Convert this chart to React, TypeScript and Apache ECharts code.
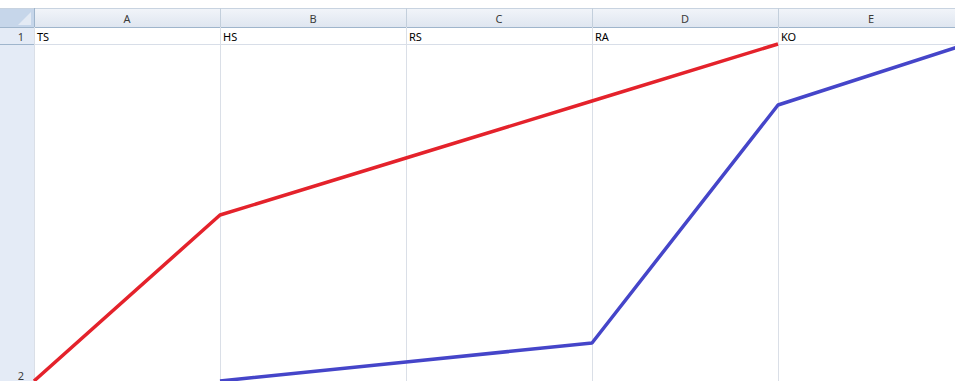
import React, { useEffect, useRef } from "react";
import * as echarts from "echarts";

// Sheet contents
const columnLetters = ["A", "B", "C", "D", "E"];
const rowNumbers = ["1", "2"];
const categories = ["TS", "HS", "RS", "RA", "KO"];

// Line values, [column index, height above the bottom of row 2]
const redSeries: [number, number][] = [
  [0, 0],
  [1, 166],
  [2, 223],
  [3, 280],
  [4, 337],
];
const blueSeries: [number, number][] = [
  [1, 0],
  [2, 19],
  [3, 38],
  [4, 276],
  [5, 336],
];

const W = 955;
const H = 381;
const ROW_HDR_W = 34;
const COL_W = 186;
const SHEET_W = ROW_HDR_W + COL_W * 5; // sheet runs past the visible edge
const HDR_TOP = 8;
const HDR_BOTTOM = 27;
const ROW1_BOTTOM = 44;

export default function App() {
  const ref = useRef<HTMLDivElement>(null);

  useEffect(() => {
    if (!ref.current) return;
    const chart = echarts.init(ref.current, null, { renderer: "svg" });

    const graphics: any[] = [];
    // column header strip
    graphics.push({
      type: "rect",
      shape: { x: 0, y: HDR_TOP, width: SHEET_W, height: HDR_BOTTOM - HDR_TOP },
      style: {
        fill: new echarts.graphic.LinearGradient(0, 0, 0, 1, [
          { offset: 0, color: "#f2f5fa" },
          { offset: 1, color: "#dfe6f0" },
        ]),
      },
      silent: true,
    });
    graphics.push({
      type: "line",
      shape: { x1: 0, y1: HDR_TOP + 0.5, x2: SHEET_W, y2: HDR_TOP + 0.5 },
      style: { stroke: "#c8d3e0", lineWidth: 1 },
      silent: true,
    });
    graphics.push({
      type: "line",
      shape: { x1: 0, y1: HDR_BOTTOM + 0.5, x2: SHEET_W, y2: HDR_BOTTOM + 0.5 },
      style: { stroke: "#9fb5cc", lineWidth: 1 },
      silent: true,
    });
    // row header strip
    graphics.push({
      type: "rect",
      shape: { x: 0, y: HDR_BOTTOM + 1, width: ROW_HDR_W, height: H - HDR_BOTTOM },
      style: { fill: "#e4ebf6" },
      silent: true,
    });
    graphics.push({
      type: "line",
      shape: { x1: ROW_HDR_W + 0.5, y1: HDR_TOP, x2: ROW_HDR_W + 0.5, y2: H },
      style: { stroke: "#9fb5cc", lineWidth: 1 },
      silent: true,
    });
    graphics.push({
      type: "line",
      shape: { x1: 0, y1: ROW1_BOTTOM + 0.5, x2: ROW_HDR_W, y2: ROW1_BOTTOM + 0.5 },
      style: { stroke: "#9fb5cc", lineWidth: 1 },
      silent: true,
    });
    // select-all corner
    graphics.push({
      type: "rect",
      shape: { x: 0, y: HDR_TOP + 1, width: ROW_HDR_W, height: HDR_BOTTOM - HDR_TOP - 1 },
      style: { fill: "#c6d6ea" },
      silent: true,
    });
    graphics.push({
      type: "polygon",
      shape: { points: [[31, 12], [31, 25], [18, 25]] },
      style: { fill: "#e3eaf4" },
      silent: true,
    });
    // column letters and separators
    columnLetters.forEach((c, i) => {
      const x0 = ROW_HDR_W + i * COL_W;
      graphics.push({
        type: "text",
        x: x0 + COL_W / 2,
        y: (HDR_TOP + HDR_BOTTOM) / 2 + 0.5,
        style: {
          text: c,
          fill: "#3b3b3b",
          font: "11px 'Noto Sans', sans-serif",
          align: "center",
          verticalAlign: "middle",
        },
        silent: true,
      });
      if (i > 0) {
        graphics.push({
          type: "line",
          shape: { x1: x0 + 0.5, y1: HDR_TOP, x2: x0 + 0.5, y2: HDR_BOTTOM },
          style: { stroke: "#c3cfdc", lineWidth: 1 },
          silent: true,
        });
      }
    });
    // row numbers
    const rowY = [36, 375];
    rowNumbers.forEach((r, i) => {
      graphics.push({
        type: "text",
        x: 21,
        y: rowY[i],
        style: {
          text: r,
          fill: "#3b3b3b",
          font: "11px 'Noto Sans', sans-serif",
          align: "center",
          verticalAlign: "middle",
        },
        silent: true,
      });
    });
    // row 1 bottom gridline
    graphics.push({
      type: "line",
      shape: { x1: ROW_HDR_W, y1: ROW1_BOTTOM + 0.5, x2: SHEET_W, y2: ROW1_BOTTOM + 0.5 },
      style: { stroke: "#d8dee8", lineWidth: 1 },
      silent: true,
    });
    // category labels in row 1
    categories.forEach((c, i) => {
      graphics.push({
        type: "text",
        x: ROW_HDR_W + i * COL_W + 3,
        y: (HDR_BOTTOM + ROW1_BOTTOM) / 2 + 1,
        style: {
          text: c,
          fill: "#000000",
          font: "11px 'Noto Sans', sans-serif",
          align: "left",
          verticalAlign: "middle",
        },
        silent: true,
      });
    });

    chart.setOption({
      animation: false,
      backgroundColor: "#ffffff",
      grid: {
        left: ROW_HDR_W,
        top: HDR_BOTTOM,
        right: 0,
        bottom: 0,
      },
      xAxis: {
        type: "value",
        min: 0,
        max: 5,
        interval: 1,
        axisLine: { show: false },
        axisTick: { show: false },
        axisLabel: { show: false },
        splitLine: { show: true, lineStyle: { color: "#dadfe7", width: 1 } },
      },
      yAxis: {
        type: "value",
        min: 0,
        max: 337 + (ROW1_BOTTOM - HDR_BOTTOM),
        show: false,
        splitLine: { show: false },
      },
      graphic: { elements: graphics },
      series: [
        {
          type: "line",
          data: redSeries,
          symbol: "none",
          clip: false,
          lineStyle: { color: "#e4222b", width: 3.5 },
          z: 5,
        },
        {
          type: "line",
          data: blueSeries,
          symbol: "none",
          clip: false,
          lineStyle: { color: "#4545c9", width: 3.5 },
          z: 5,
        },
      ],
    });

    return () => chart.dispose();
  }, []);

  return (
    <div style={{ position: "fixed", left: 0, top: 0, width: W, height: H, overflow: "hidden" }}>
      <div ref={ref} style={{ width: SHEET_W, height: H }} />
    </div>
  );
}
